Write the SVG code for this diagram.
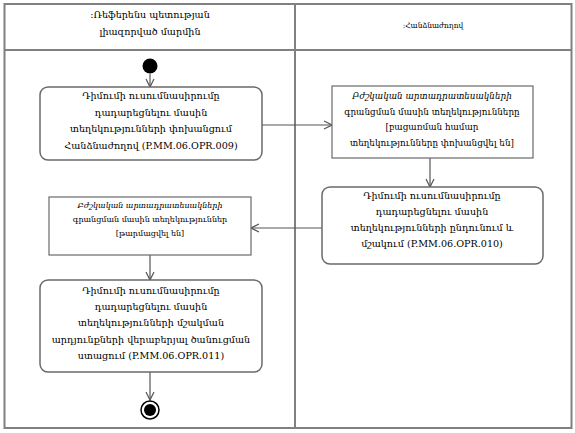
<svg xmlns="http://www.w3.org/2000/svg" width="575" height="433" viewBox="0 0 575 433">
<style>
.frame{fill:none;stroke:#808080;stroke-width:2}
.node{fill:#fff;stroke:#6a6a6a;stroke-width:1.5}
.obj{fill:#fff;stroke:#6a6a6a;stroke-width:1.2}
.edge{fill:none;stroke:#555;stroke-width:1.2}
text{font-family:"DejaVu Serif","DejaVu Sans",serif;font-size:9.6px;fill:#000;text-anchor:middle}
.sm{font-size:8.8px}
.xs{font-size:8px}
.hd{font-size:7.5px}
</style>
<defs>
<marker id="arr" markerWidth="10" markerHeight="10" refX="9" refY="5" orient="auto" markerUnits="userSpaceOnUse">
<path d="M1,1 L9,5 L1,9" fill="none" stroke="#555" stroke-width="1.2"/>
</marker>
</defs>
<rect width="575" height="433" fill="#fff"/>
<g id="lanes">
<rect class="frame" x="4.5" y="4" width="567" height="424"/>
<line class="frame" x1="4.5" y1="50" x2="571.5" y2="50"/>
<line class="frame" x1="295" y1="4" x2="295" y2="428"/>
<text x="150" y="18">:Ռեֆերենս պետության</text>
<text x="150" y="35">լիազորված մարմին</text>
<text class="hd" x="433" y="28">:Հանձնաժողով</text>
</g>
<g id="edges">
<line class="edge" x1="150" y1="74" x2="150" y2="87" marker-end="url(#arr)"/>
<line class="edge" x1="262" y1="125" x2="332" y2="125" marker-end="url(#arr)"/>
<line class="edge" x1="430" y1="158" x2="430" y2="187" marker-end="url(#arr)"/>
<line class="edge" x1="322" y1="228" x2="251" y2="228" marker-end="url(#arr)"/>
<line class="edge" x1="150" y1="255" x2="150" y2="280" marker-end="url(#arr)"/>
<line class="edge" x1="150" y1="372" x2="150" y2="400" marker-end="url(#arr)"/>
</g>
<g id="start"><circle cx="150" cy="66" r="7.5" fill="#000"/></g>
<g id="n1">
<rect class="node" x="40" y="87" width="222" height="73" rx="8"/>
<text x="151" y="99">Դիմումի ուսումնասիրումը</text>
<text x="151" y="116">դադարեցնելու մասին</text>
<text x="151" y="132">տեղեկությունների փոխանցում</text>
<text x="151" y="149">Հանձնաժողով (P.MM.06.OPR.009)</text>
</g>
<g id="n2">
<rect class="obj" x="332" y="86" width="201" height="72"/>
<text class="sm" x="432" y="99" font-style="italic">Բժշկական արտադրատեսակների</text>
<text class="sm" x="432" y="115">գրանցման մասին տեղեկությունները</text>
<text class="sm" x="432" y="130">[բացառման համար</text>
<text class="sm" x="432" y="146">տեղեկությունները փոխանցվել են]</text>
</g>
<g id="n3">
<rect class="node" x="322" y="187" width="221" height="77" rx="8"/>
<text x="432" y="199">Դիմումի ուսումնասիրումը</text>
<text x="432" y="215">դադարեցնելու մասին</text>
<text x="432" y="231">տեղեկությունների ընդունում և</text>
<text x="432" y="247">մշակում (P.MM.06.OPR.010)</text>
</g>
<g id="n4">
<rect class="obj" x="49" y="197" width="202" height="58"/>
<text class="xs" x="150" y="208" font-style="italic">Բժշկական արտադրատեսակների</text>
<text class="xs" x="150" y="222">գրանցման մասին տեղեկություններ</text>
<text class="xs" x="150" y="236">[թարմացվել են]</text>
</g>
<g id="n5">
<rect class="node" x="40" y="280" width="222" height="92" rx="8"/>
<text x="151" y="294">Դիմումի ուսումնասիրումը</text>
<text x="151" y="310">դադարեցնելու մասին</text>
<text x="151" y="326">տեղեկությունների մշակման</text>
<text x="151" y="343">արդյունքների վերաբերյալ ծանուցման</text>
<text x="151" y="359">ստացում (P.MM.06.OPR.011)</text>
</g>
<g id="end">
<circle cx="150" cy="410" r="9" fill="#fff" stroke="#000" stroke-width="1.5"/>
<circle cx="150" cy="410" r="6" fill="#000"/>
</g>
</svg>
